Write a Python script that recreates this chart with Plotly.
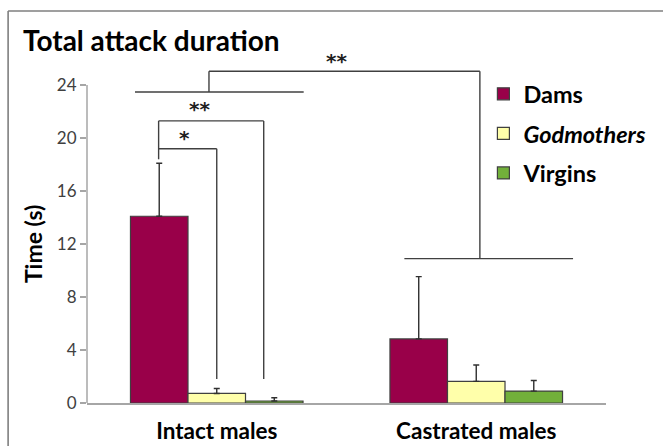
import plotly.graph_objects as go

categories = ["Intact males", "Castrated males"]
series_names = ["Dams", "Godmothers", "Virgins"]
legend_labels = ["Dams", "<i>Godmothers</i>", "Virgins"]
dams = [14.1, 4.84]
dams_err = [4.0, 4.7]
godmothers = [0.72, 1.63]
godmothers_err = [0.38, 1.24]
virgins = [0.15, 0.9]
virgins_err = [0.25, 0.8]
y_ticks = [0, 4, 8, 12, 16, 20, 24]

values = [dams, godmothers, virgins]
errors = [dams_err, godmothers_err, virgins_err]
colors = ["#990049", "#ffffaa", "#72b03a"]

FONT = "Lato"

fig = go.Figure()
for i, name in enumerate(series_names):
    fig.add_trace(go.Bar(
        x=categories, y=values[i], name=legend_labels[i],
        legendgroup=name,
        marker=dict(color=colors[i], line=dict(color="#404040", width=1.2)),
        error_y=dict(type="data", symmetric=False, array=errors[i],
                     arrayminus=[0] * len(errors[i]),
                     color="#303030", thickness=1.4, width=3),
    ))

# significance brackets (data coordinates: category index offsets, seconds)
line_style = dict(color="#404040", width=1.4)
brackets = [
    (-0.224, 18.4, -0.224, 21.3),
    (-0.224, 19.2, 0.0, 19.2),
    (0.0, 19.2, 0.0, 1.81),
    (-0.224, 21.3, 0.181, 21.3),
    (0.181, 21.3, 0.181, 1.81),
    (-0.315, 23.48, 0.335, 23.48),
    (-0.030, 23.48, -0.030, 25.05),
    (-0.030, 25.05, 1.014, 25.05),
    (1.014, 25.05, 1.014, 10.9),
    (0.723, 10.9, 1.373, 10.9),
]
for x0, y0, x1, y1 in brackets:
    fig.add_shape(type="line", xref="x", yref="y", x0=x0, y0=y0, x1=x1, y1=y1,
                  line=line_style)

stars = [(-0.123, 20.0, "*"), (-0.065, 22.2, "**"), (0.46, 25.85, "**")]
for sx, sy, st in stars:
    fig.add_annotation(x=sx, y=sy, xref="x", yref="y", text=st,
                       showarrow=False,
                       font=dict(family="DejaVu Sans", size=20, color="#202020",
                                 weight="bold"),
                       yanchor="middle")

# y-axis title, centred on the 0-24 axis span
fig.add_annotation(x=-0.104, y=12, xref="paper", yref="y", text="<b>Time (s)</b>",
                   textangle=-90, showarrow=False, xanchor="center", yanchor="middle",
                   font=dict(family=FONT, size=23, color="#000000"))

# y-axis line from 0 to 24
fig.add_shape(type="line", xref="paper", yref="y", x0=0, x1=0, y0=0, y1=24,
              line=dict(color="#a6a6a6", width=1.5))

# outer frame (top and left edges)
fig.add_shape(type="line", xref="paper", yref="paper", x0=-0.152, x1=1.2,
              y0=1.1168, y1=1.1168, line=dict(color="#7f7f7f", width=1.6))
fig.add_shape(type="line", xref="paper", yref="paper", x0=-0.152, x1=-0.152,
              y0=-0.2, y1=1.1168, line=dict(color="#7f7f7f", width=1.6))

fig.update_layout(
    width=663, height=446,
    margin=dict(l=87, r=56, t=52, b=43),
    paper_bgcolor="white", plot_bgcolor="white",
    barmode="group", bargap=0.335, bargroupgap=0,
    font=dict(family=FONT, color="#000000"),
    title=dict(text="<b>Total attack duration</b>", x=23 / 663, xanchor="left",
               xref="container", y=1 - 41 / 446, yanchor="middle",
               font=dict(family=FONT, size=28, color="#000000")),
    showlegend=True,
    legend=dict(x=0.7623, xanchor="left", y=0.943, yanchor="top",
                traceorder="grouped", tracegroupgap=6,
                font=dict(family=FONT, size=23.5, color="#000000", weight="bold"),
                bgcolor="rgba(0,0,0,0)"),
    xaxis=dict(showline=True, linecolor="#a6a6a6", linewidth=1.5, ticks="",
               showgrid=False, zeroline=False, range=[-0.5, 1.5],
               automargin=False,
               tickfont=dict(family=FONT, size=22.5, color="#000000", weight="bold"),
               ticklabelstandoff=7),
    yaxis=dict(range=[0, 26.5], tickvals=y_ticks, showline=False, showgrid=False,
               zeroline=False, ticks="outside", ticklen=6, tickwidth=1.5,
               tickcolor="#a6a6a6", automargin=False,
               tickfont=dict(family=FONT, size=17, color="#404040")),
)

fig.write_html("out.html",
               config={"displayModeBar": False},
               post_script="document.body.style.margin='0px';"
                           "document.body.style.overflow='hidden';")
